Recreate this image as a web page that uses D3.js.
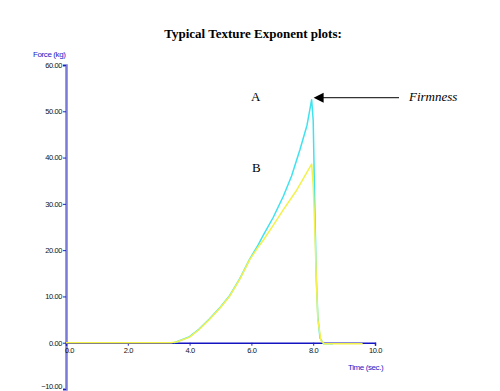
<!DOCTYPE html>
<html>
<head>
<meta charset="utf-8">
<script src="https://cdn.jsdelivr.net/npm/d3@7"></script>
<style>
  body { margin: 0; background: #fff; }
  svg { display: block; }
  .tick text { font-family: "Liberation Sans", Arial, sans-serif; font-size: 7.5px; fill: #111; letter-spacing: -0.4px; }
  .title { font-family: "Liberation Serif", "Times New Roman", serif; font-size: 13px; font-weight: bold; }
  .serif { font-family: "Liberation Serif", "Times New Roman", serif; font-size: 13px; }
  .axisLabel { font-family: "Liberation Sans", Arial, sans-serif; font-size: 8px; fill: #1a1ac8; letter-spacing: -0.4px; }
</style>
</head>
<body>
<div id="chart"></div>
<script>
// tick values
const xTicks = [0, 2, 4, 6, 8, 10];
const yTicks = [-10, 0, 10, 20, 30, 40, 50, 60];

// curve A (cyan), time in sec, force in kg
const timeA  = [3.5, 4.0, 4.3, 4.64, 5.0, 5.3, 5.63, 5.94, 6.2, 6.39, 6.7, 7.03, 7.3, 7.57, 7.8, 7.95, 8.0, 8.05, 8.1, 8.15, 8.22, 8.33, 8.64];
const forceA = [0, 1.3, 2.9, 5.1, 7.7, 10.2, 13.9, 18.0, 20.9, 23.3, 27.0, 31.6, 36.0, 41.7, 47.0, 52.5, 48.0, 30.0, 14.0, 5.7, 1.0, -0.2, -0.2];

// curve B (yellow)
const timeB  = [0, 3.4, 3.6, 4.0, 4.3, 4.64, 5.0, 5.3, 5.63, 5.94, 6.2, 6.39, 6.7, 7.03, 7.47, 7.95, 8.0, 8.05, 8.1, 8.15, 8.25, 8.35, 9.6];
const forceB = [0, 0, 0.2, 1.2, 2.8, 5.0, 7.6, 10.1, 13.8, 17.9, 20.5, 22.2, 25.3, 28.7, 33.0, 38.6, 34.0, 25.0, 14.0, 5.0, 0.5, -0.2, -0.2];

const width = 500;
const height = 391;

const svg = d3.select("#chart").append("svg")
    .attr("width", width)
    .attr("height", height)
    .attr("viewBox", [0, 0, width, height]);

const x = d3.scaleLinear().domain([0, 10]).range([66, 375]);
const y = d3.scaleLinear().domain([-10, 60]).range([389, 65]);

svg.append("text")
    .attr("class", "title")
    .attr("x", 253)
    .attr("y", 38)
    .attr("text-anchor", "middle")
    .text("Typical Texture Exponent plots:");

// y axis
const yAxis = d3.axisLeft(y)
    .tickValues(yTicks)
    .tickSize(3)
    .tickPadding(1)
    .tickFormat(d3.format(".2f"));

const gy = svg.append("g")
    .attr("transform", `translate(${x(0)},0)`)
    .call(yAxis);
gy.select(".domain").attr("stroke", "#7a7ad8").attr("stroke-width", 2.5);
gy.selectAll(".tick line").attr("stroke", "#2020c0");
// keep the bottom label inside the picture
gy.selectAll(".tick text").filter(d => d === -10).attr("dy", "-0.1em");

// x axis
const xAxis = d3.axisBottom(x)
    .tickValues(xTicks)
    .tickSize(3)
    .tickPadding(2)
    .tickFormat(d3.format(".1f"));

const gx = svg.append("g")
    .attr("transform", `translate(0,${y(0)})`)
    .call(xAxis);
gx.select(".domain").attr("stroke", "#1414c0").attr("stroke-width", 1.5);
gx.selectAll(".tick line").attr("stroke", "#2020c0");
gx.selectAll(".tick text").filter(d => d === 0).attr("dx", 3);

svg.append("text")
    .attr("class", "axisLabel")
    .attr("x", 33)
    .attr("y", 57)
    .text("Force  (kg)");

svg.append("text")
    .attr("class", "axisLabel")
    .attr("x", 348)
    .attr("y", 370)
    .text("Time (sec.)");

// curves
const line = d3.line()
    .x(d => x(d[0]))
    .y(d => y(d[1]));

svg.append("path")
    .datum(d3.zip(timeA, forceA))
    .attr("fill", "none")
    .attr("stroke", "#3fe3ef")
    .attr("stroke-width", 1.5)
    .attr("stroke-linejoin", "round")
    .attr("d", line);

svg.append("path")
    .datum(d3.zip(timeB, forceB))
    .attr("fill", "none")
    .attr("stroke", "#f2f24a")
    .attr("stroke-width", 1.5)
    .attr("stroke-linejoin", "round")
    .attr("d", line);

// annotations
svg.append("text").attr("class", "serif").attr("x", 251).attr("y", 101).text("A");
svg.append("text").attr("class", "serif").attr("x", 252).attr("y", 172).text("B");
svg.append("text").attr("class", "serif")
    .attr("x", 409).attr("y", 101)
    .style("font-style", "italic")
    .text("Firmness");

const peakX = x(timeA[forceA.indexOf(d3.max(forceA))]);
const peakY = y(d3.max(forceA));

svg.append("line")
    .attr("x1", 399).attr("y1", peakY - 2)
    .attr("x2", peakX + 10).attr("y2", peakY - 2)
    .attr("stroke", "#000")
    .attr("stroke-width", 1);

svg.append("path")
    .attr("d", `M${peakX + 2},${peakY - 2}L${peakX + 12},${peakY - 7}L${peakX + 12},${peakY + 3}Z`)
    .attr("fill", "#000");
</script>
</body>
</html>
